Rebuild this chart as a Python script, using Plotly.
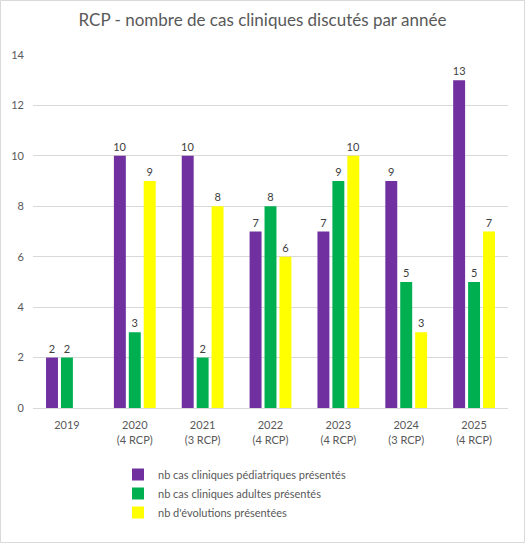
import plotly.graph_objects as go

# data
years = ['2019', '2020<br>(4 RCP)', '2021<br>(3 RCP)', '2022<br>(4 RCP)',
         '2023<br>(4 RCP)', '2024<br>(3 RCP)', '2025<br>(4 RCP)']
pediatriques = [2, 10, 10, 7, 7, 9, 13]
adultes = [2, 3, 2, 8, 9, 5, 5]
evolutions = [None, 9, 8, 6, 10, 3, 7]

grey = '#595959'
font_name = 'Lato'

fig = go.Figure()
series = [
    ('nb cas cliniques pédiatriques présentés', pediatriques, '#7030A0'),
    ('nb cas cliniques adultes présentés', adultes, '#00B050'),
    ("nb d'évolutions présentées", evolutions, '#FFFF00'),
]
for name, vals, col in series:
    fig.add_trace(go.Bar(
        x=years, y=vals, name=name, marker_color=col, marker_line_width=0,
        text=[str(v) if v is not None else '' for v in vals],
        textposition='outside', cliponaxis=False, constraintext='none',
        textfont=dict(size=11, color='#404040', family=font_name),
    ))

W, H = 525, 543
L, R, T, B = 33, 17, 55, 135
pw, ph = W - L - R, H - T - B

fig.update_layout(
    width=W, height=H,
    margin=dict(l=L, r=R, t=T, b=B),
    paper_bgcolor='white', plot_bgcolor='white',
    font=dict(family=font_name, color=grey, size=11),
    title=dict(text='RCP - nombre de cas cliniques discutés par année',
               x=0.5, xanchor='center', y=0.963, yanchor='middle',
               font=dict(size=17, color=grey, family=font_name)),
    barmode='group', bargap=0.34, bargroupgap=0.2,
    showlegend=True,
    legend=dict(orientation='v', x=(118 - L) / pw, xanchor='left',
                y=(408 - 460) / ph, yanchor='top',
                font=dict(size=11, color=grey),
                itemwidth=30, traceorder='normal'),
    xaxis=dict(showgrid=False, showline=True, linecolor='#D9D9D9',
               ticks='', tickfont=dict(size=11, color=grey),
               ticklabelstandoff=7),
    yaxis=dict(range=[0, 14], dtick=2, showgrid=True, gridcolor='#D9D9D9',
               zeroline=False, showline=False, ticks='',
               tickfont=dict(size=11, color=grey), ticklabelstandoff=8),
)

# outer border of the chart area
fig.add_shape(type='rect', xref='paper', yref='paper',
              x0=(0.5 - L) / pw, x1=(W - 0.5 - L) / pw,
              y0=(T + ph - (H - 0.5)) / ph, y1=(T + ph - 0.5) / ph,
              line=dict(color='#D9D9D9', width=1))

fig.write_html("out.html", config={'displayModeBar': False},
               post_script="document.body.style.margin='0';"
                           "document.body.style.overflow='hidden';")
